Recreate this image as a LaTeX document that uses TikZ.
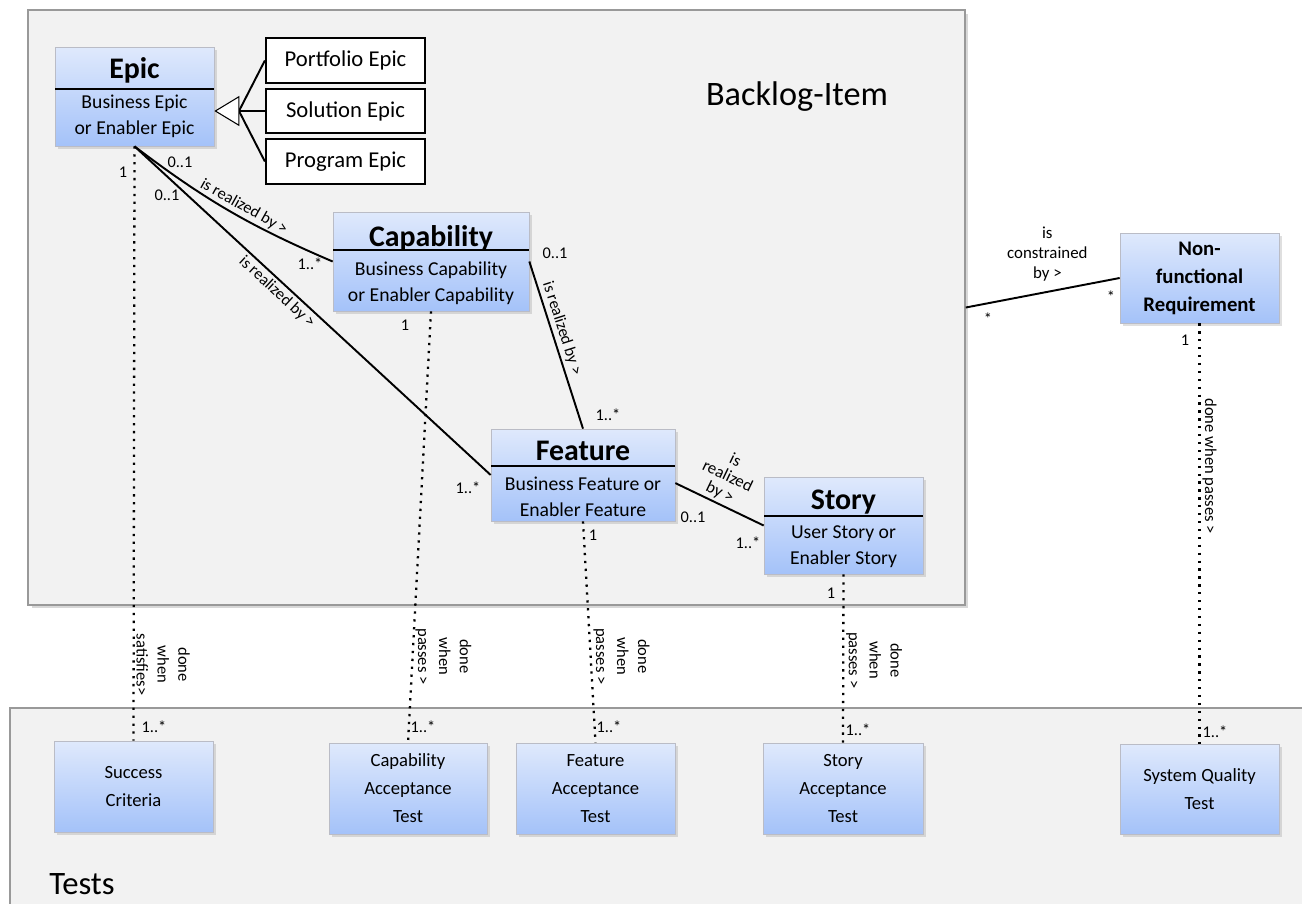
\documentclass[tikz,border=0pt]{standalone}
\usepackage{fontspec}
\setmainfont{Carlito}
\usepackage{tikz}
\usetikzlibrary{arrows.meta,shadows}
\definecolor{boxtop}{RGB}{223,233,252}
\definecolor{boxbot}{RGB}{164,194,249}
\definecolor{boxline}{RGB}{186,188,198}
\definecolor{pane}{RGB}{242,242,242}
\tikzset{
  font={\fontsize{9.3pt}{11pt}\selectfont},
  panebox/.style={draw=black!40, fill=pane, line width=1pt, inner sep=0pt},
  cls/.style={draw=boxline, top color=boxtop, bottom color=boxbot, inner sep=0pt,
    drop shadow={shadow xshift=1.5pt, shadow yshift=-1.5pt, opacity=0.25}},
  subbox/.style={draw, line width=1.3pt, fill=white, minimum width=3.18cm,
    minimum height=0.89cm, inner sep=0pt, font={\fontsize{12.9pt}{15pt}\selectfont}},
  ttl/.style={font={\fontsize{17pt}{20pt}\selectfont\bfseries}},
  bdy/.style={align=center, font={\fontsize{11.2pt}{14.8pt}\selectfont}},
  tbdy/.style={align=center, font={\fontsize{10.6pt}{15.9pt}\selectfont}},
  rel/.style={line width=1.1pt},
  dots/.style={line width=1.3pt, dash pattern=on 1.3pt off 3.2pt},
  mult/.style={inner sep=0pt, font={\fontsize{9.3pt}{11pt}\selectfont}},
  lbl/.style={inner sep=1.5pt, align=center},
  lbldone/.style={inner sep=1pt, align=center, rotate=-90, anchor=south,
    font={\fontsize{9.4pt}{11.9pt}\selectfont}}
}

\begin{document}
\begin{tikzpicture}[x=0.02cm,y=-0.02cm]
\useasboundingbox (0,0) rectangle (1302,903);
\fill [white] (0,0) rectangle (1302,903);
\clip (0,0) rectangle (1302,903);
% the two panes
\node [panebox, drop shadow={shadow xshift=2pt, shadow yshift=-2pt, opacity=0.3},
  minimum width=18.74cm, minimum height=11.9cm] (backlog) at (496.5,307.5) {};
\node [panebox, minimum width=26.4cm, minimum height=4.44cm] (tests) at (670,819) {};
\node [font={\fontsize{19.5pt}{22pt}\selectfont}] (backlogt) at (797,97) {Backlog-Item};
\node [font={\fontsize{18.6pt}{22pt}\selectfont}] (testst) at (82,884) {Tests};
% backlog items
\node [cls, minimum width=3.18cm, minimum height=1.98cm] (epic) at (134.5,96.5) {};
\draw [line width=1.3pt] (55,89) -- (214,89);
\node [ttl] (epict) at (134.5,70) {Epic};
\node [bdy] (epicb) at (134.5,116.5) {Business Epic\\or Enabler Epic};
\node [subbox] (port) at (345.5,60.5) {Portfolio Epic};
\node [subbox] (sol) at (345.5,111) {Solution Epic};
\node [subbox] (prog) at (345.5,161.5) {Program Epic};
\node [cls, minimum width=3.92cm, minimum height=1.98cm] (cap) at (431,261.5) {};
\draw [line width=1.3pt] (333,250) -- (529,250);
\node [ttl] (capt) at (431,238) {Capability};
\node [bdy] (capb) at (431,283) {Business Capability\\or Enabler Capability};
\node [cls, minimum width=3.68cm, minimum height=1.84cm] (feat) at (583,475) {};
\draw [line width=1.3pt] (491,466) -- (675,466);
\node [ttl] (featt) at (583,451) {Feature};
\node [bdy] (featb) at (583,496.5) {Business Feature or\\Enabler Feature};
\node [cls, minimum width=3.18cm, minimum height=1.94cm] (story) at (843.5,525.5) {};
\draw [line width=1.3pt] (764,516) -- (923,516);
\node [ttl] (storyt) at (843.5,502) {Story};
\node [bdy] (storyb) at (843.5,547) {User Story or\\Enabler Story};
\node [cls, minimum width=3.18cm, minimum height=1.8cm, tbdy,
  font={\fontsize{11.8pt}{15.9pt}\selectfont\bfseries}] (nfr) at (1199.5,278) {Non-\\functional\\Requirement};
% tests
\node [cls, tbdy, minimum width=3.18cm, minimum height=1.82cm] (sc) at (133.5,786.5) {Success\\Criteria};
\node [cls, tbdy, minimum width=3.16cm, minimum height=1.82cm] (cat) at (408,788.5) {Capability\\Acceptance\\Test};
\node [cls, tbdy, minimum width=3.18cm, minimum height=1.82cm] (fat) at (595.5,788.5) {Feature\\Acceptance\\Test};
\node [cls, tbdy, minimum width=3.2cm, minimum height=1.82cm] (sat) at (843,788.5) {Story\\Acceptance\\Test};
\node [cls, tbdy, minimum width=3.18cm, minimum height=1.8cm] (sqt) at (1199.5,789) {System Quality\\Test};
% generalization
\coordinate (gen) at (239,111);
\draw [rel] (gen) -- (port.west);
\draw [rel] (gen) -- (sol.west);
\draw [rel] (gen) -- (prog.west);
\draw [line width=0.6pt, -{Triangle[open, fill=white, length=0.5cm, width=0.6cm]}] (gen) -- (epic.east |- gen);
% associations
\draw [rel] (epic.south) to [bend right=7] node [lbl, sloped, above, pos=0.55] {is realized by >} (cap.west);
\draw [rel] (epic.south) -- node [lbl, sloped, below, pos=0.42] {is realized by >} (feat.west);
\draw [rel] (cap.east) -- node [lbl, sloped, above, pos=0.42] {is realized by >} (feat.north);
\draw [rel] (feat.-5) -- node [lbl, sloped, above, pos=0.45, font={\fontsize{9.6pt}{10pt}\selectfont}] {is\\realized\\by >} (story.west);
\draw [rel] (backlog.east) -- node [lbl, above=4pt, pos=0.53, font={\fontsize{9.6pt}{11.3pt}\selectfont}] {is\\constrained\\by >} (nfr.west);
% done when ...
\draw [dots] (epic.south) -- node [lbldone, pos=0.872] {done\\when\\satisfies>} (sc.north);
\draw [dots] (cap.south) -- node [lbldone, pos=0.8] {done\\when\\passes >} (cat.north);
\draw [dots] (feat.south) -- node [lbldone, pos=0.61] {done\\when\\passes >} (fat.north);
\draw [dots] (story.south) -- node [lbldone, pos=0.51] {done\\when\\passes >} (sat.north);
\draw [dots] (nfr.south) -- node [lbldone, pos=0.34] {done when passes >} (sqt.north);
% multiplicities
\node [mult] (m1) at (123,172) {1};
\node [mult] (m2) at (180,162) {0..1};
\node [mult] (m3) at (167,195) {0..1};
\node [mult] (m4) at (310,264) {1..*};
\node [mult] (m5) at (405,325) {1};
\node [mult] (m6) at (555,253) {0..1};
\node [mult] (m7) at (608,415) {1..*};
\node [mult] (m8) at (468,488) {1..*};
\node [mult] (m9) at (593,535) {1};
\node [mult] (m10) at (693,517) {0..1};
\node [mult] (m11) at (748,543) {1..*};
\node [mult] (m12) at (831,593) {1};
\node [mult] (m13) at (988,319) {*};
\node [mult] (m14) at (1111,297) {*};
\node [mult] (m15) at (1185,340) {1};
\node [mult] (m16) at (154,727) {1..*};
\node [mult] (m17) at (423,727) {1..*};
\node [mult] (m18) at (609,727) {1..*};
\node [mult] (m19) at (858,730) {1..*};
\node [mult] (m20) at (1215,732) {1..*};
\end{tikzpicture}
\end{document}
